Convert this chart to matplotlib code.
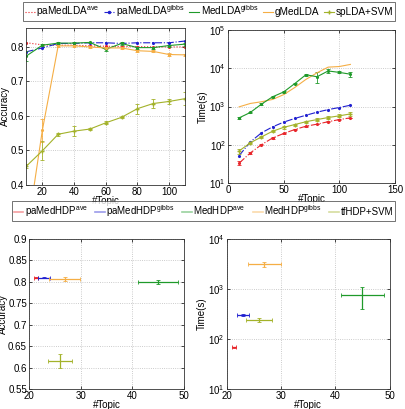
import matplotlib
matplotlib.use("Agg")
import matplotlib.pyplot as plt
from matplotlib.lines import Line2D
from matplotlib.ticker import FixedLocator, NullLocator, FuncFormatter

plt.rcParams['font.family'] = ['Liberation Sans', 'DejaVu Sans']
plt.rcParams['font.size'] = 7
plt.rcParams['mathtext.fontset'] = 'custom'
plt.rcParams['mathtext.rm'] = 'Liberation Sans'

# ---- data ----
topics = [10, 20, 30, 40, 50, 60, 70, 80, 90, 100, 110]

acc_pa_ave = [0.812, 0.806, 0.805, 0.805, 0.803, 0.802, 0.801, 0.801, 0.800, 0.800, 0.800]
acc_pa_gibbs = [0.786, 0.797, 0.810, 0.810, 0.812, 0.812, 0.810, 0.812, 0.812, 0.812, 0.817]
acc_med_gibbs = [0.774, 0.805, 0.811, 0.811, 0.813, 0.793, 0.810, 0.798, 0.798, 0.804, 0.808]
acc_med_gibbs_err = [0.015, 0.003, 0.003, 0.004, 0.002, 0.006, 0.005, 0.003, 0.003, 0.003, 0.004]
acc_gmed = [0.25, 0.558, 0.803, 0.803, 0.800, 0.797, 0.797, 0.789, 0.787, 0.778, 0.777]
acc_gmed_err = [0.0, 0.033, 0.003, 0.002, 0.003, 0.004, 0.003, 0.003, 0.003, 0.003, 0.003]
acc_splda = [0.455, 0.499, 0.547, 0.556, 0.562, 0.580, 0.596, 0.621, 0.636, 0.642, 0.650]
acc_splda_err = [0.005, 0.028, 0.004, 0.015, 0.002, 0.004, 0.003, 0.015, 0.012, 0.008, 0.018]

time_pa_ave = [33, 61, 100, 150, 197, 250, 305, 345, 400, 455, 505]
time_pa_ave_err = [4, 4, 4, 5, 5, 6, 6, 6, 8, 10, 10]
time_pa_gibbs = [52, 118, 204, 293, 390, 487, 590, 710, 830, 940, 1080]
time_med_gibbs = [505, 697, 1150, 1790, 2400, 3980, 6760, 6000, 8500, 7800, 7000]
time_med_gibbs_err = [20, 30, 50, 100, 100, 150, 300, 1800, 800, 500, 1200]
time_gmed = [980, 1200, 1330, 1530, 2040, 3140, 5100, 7600, 10700, 11100, 12600]
time_splda = [69, 112, 160, 225, 285, 337, 400, 455, 515, 570, 640]
time_splda_err = [10, 8, 10, 15, 20, 20, 30, 35, 40, 50, 60]

lda_labels = ['paMedLDA$^{\\mathrm{ave}}$', 'paMedLDA$^{\\mathrm{gibbs}}$',
              'MedLDA$^{\\mathrm{gibbs}}$', 'gMedLDA', 'spLDA+SVM']

hdp_labels = ['paMedHDP$^{\\mathrm{ave}}$', 'paMedHDP$^{\\mathrm{gibbs}}$',
              'MedHDP$^{\\mathrm{ave}}$', 'MedHDP$^{\\mathrm{gibbs}}$', 'tfHDP+SVM']
hdp_topics = [21.3, 22.9, 45.0, 26.9, 26.0]
hdp_topics_err = [0.4, 1.1, 3.9, 3.0, 2.4]
hdp_acc = [0.809, 0.809, 0.800, 0.807, 0.615]
hdp_acc_err = [0.001, 0.001, 0.005, 0.005, 0.017]
hdp_time = [68, 302, 745, 3080, 240]
hdp_time_err_lo = [2, 20, 345, 300, 22]
hdp_time_err_hi = [2, 20, 355, 330, 25]

c_red = '#e8262b'
c_blue = '#2020d0'
c_green = '#1f9a2a'
c_orange = '#f5ae45'
c_olive = '#a3b22a'
colors = [c_red, c_blue, c_green, c_orange, c_olive]

fig = plt.figure(figsize=(4.05, 4.09), dpi=100)

def style(ax):
    ax.tick_params(direction='in', length=2.5, width=0.5, labelsize=7, pad=1.5,
                   top=True, right=True)
    ax.tick_params(which='minor', length=0)
    for s in ax.spines.values():
        s.set_linewidth(0.6)
        s.set_color('#333333')
    ax.grid(True, linestyle=':', color='#bbbbbb', linewidth=0.6)

lw = 0.8
ms = 2.5
eb = dict(elinewidth=0.6, capsize=1.2, capthick=0.6)

# ---- top-left: accuracy ----
ax1 = fig.add_axes([0.0654, 0.5477, 0.391, 0.384])
ax1.plot(topics, acc_pa_ave, ':', color=c_red, lw=lw, marker='.', ms=ms)
ax1.plot(topics, acc_pa_gibbs, '-.', color=c_blue, lw=lw, marker='.', ms=ms)
ax1.errorbar(topics, acc_med_gibbs, yerr=acc_med_gibbs_err, fmt='-', color=c_green,
             lw=lw, marker='.', ms=ms, **eb)
ax1.errorbar(topics, acc_gmed, yerr=acc_gmed_err, fmt='-', color=c_orange,
             lw=lw, marker='.', ms=ms, **eb)
ax1.errorbar(topics, acc_splda, yerr=acc_splda_err, fmt='-', color=c_olive,
             lw=lw, marker='+', ms=3, **eb)
ax1.set_xlim(10, 110)
ax1.set_ylim(0.4, 0.855)
ax1.set_xticks([20, 40, 60, 80, 100])
ax1.set_yticks([0.4, 0.5, 0.6, 0.7, 0.8])
ax1.set_xlabel('#Topic', fontsize=7, labelpad=-0.5)
ax1.set_ylabel('Accuracy', fontsize=7, labelpad=1)
style(ax1)

def logfmt(v, pos):
    import math
    e = int(round(math.log10(v)))
    return '$10^{%d}$' % e

# ---- top-right: time ----
ax2 = fig.add_axes([0.563, 0.5526, 0.412, 0.374])
ax2.errorbar(topics, time_pa_ave, yerr=time_pa_ave_err, fmt='-.', color=c_red,
             lw=lw, marker='.', ms=ms, **eb)
ax2.plot(topics, time_pa_gibbs, '-.', color=c_blue, lw=lw, marker='.', ms=ms)
ax2.errorbar(topics, time_med_gibbs, yerr=time_med_gibbs_err, fmt='-', color=c_green,
             lw=lw, marker='.', ms=ms, **eb)
ax2.plot(topics, time_gmed, '-', color=c_orange, lw=lw)
ax2.errorbar(topics, time_splda, yerr=time_splda_err, fmt='-', color=c_olive,
             lw=lw, marker='+', ms=3, **eb)
ax2.set_yscale('log')
ax2.set_xlim(0, 150)
ax2.set_ylim(10, 1e5)
ax2.set_xticks([0, 50, 100, 150])
ax2.yaxis.set_major_locator(FixedLocator([1e1, 1e2, 1e3, 1e4, 1e5]))
ax2.yaxis.set_minor_locator(NullLocator())
ax2.yaxis.set_major_formatter(FuncFormatter(logfmt))
ax2.set_xlabel('#Topic', fontsize=7, labelpad=-0.5)
ax2.set_ylabel('Time(s)', fontsize=7, labelpad=1)
style(ax2)

# top legend
styles_top = [':', '-.', '-', '-', '-']
markers_top = ['', '.', '', '', '+']
handles = [Line2D([0], [0], color=c, ls=s, lw=0.8, marker=m, ms=3)
           for c, s, m in zip(colors, styles_top, markers_top)]
leg1 = fig.legend(handles, lda_labels, loc='center', bbox_to_anchor=(0.516, 0.972),
                  ncol=5, fontsize=7.2, frameon=True, fancybox=False, edgecolor='#333333',
                  handlelength=1.0, handletextpad=0.15, columnspacing=0.5,
                  borderpad=0.2, borderaxespad=0)
leg1.get_frame().set_linewidth(0.6)

# ---- bottom-left: HDP accuracy ----
ax3 = fig.add_axes([0.0716, 0.0489, 0.383, 0.367])
for i in range(5):
    ax3.errorbar(hdp_topics[i], hdp_acc[i], xerr=hdp_topics_err[i], yerr=hdp_acc_err[i],
                 fmt='none', ecolor=colors[i], elinewidth=0.9, capsize=1.2, capthick=0.6)
ax3.set_xlim(20, 50)
ax3.set_ylim(0.55, 0.9)
ax3.set_xticks([20, 30, 40, 50])
ax3.set_yticks([0.55, 0.6, 0.65, 0.7, 0.75, 0.8, 0.85, 0.9])
ax3.set_yticklabels(['0.55', '0.6', '0.65', '0.7', '0.75', '0.8', '0.85', '0.9'])
ax3.set_xlabel('#Topic', fontsize=7, labelpad=-0.5)
ax3.set_ylabel('Accuracy', fontsize=7, labelpad=0)
style(ax3)

# ---- bottom-right: HDP time ----
ax4 = fig.add_axes([0.560, 0.0489, 0.402, 0.367])
for i in range(5):
    ax4.errorbar(hdp_topics[i], hdp_time[i], xerr=hdp_topics_err[i],
                 yerr=[[hdp_time_err_lo[i]], [hdp_time_err_hi[i]]],
                 fmt='none', ecolor=colors[i], elinewidth=0.9, capsize=1.2, capthick=0.6)
ax4.set_yscale('log')
ax4.set_xlim(20, 50)
ax4.set_ylim(10, 1e4)
ax4.set_xticks([20, 30, 40, 50])
ax4.yaxis.set_major_locator(FixedLocator([1e1, 1e2, 1e3, 1e4]))
ax4.yaxis.set_minor_locator(NullLocator())
ax4.yaxis.set_major_formatter(FuncFormatter(logfmt))
ax4.set_xlabel('#Topic', fontsize=7, labelpad=-0.5)
ax4.set_ylabel('Time(s)', fontsize=7, labelpad=1)
style(ax4)

# bottom legend
handles2 = [Line2D([0], [0], color=c, ls='-', lw=1.2, alpha=0.45) for c in colors]
leg2 = fig.legend(handles2, hdp_labels, loc='center', bbox_to_anchor=(0.502, 0.484),
                  ncol=5, fontsize=7.0, frameon=True, fancybox=False, edgecolor='#333333',
                  handlelength=1.0, handletextpad=0.15, columnspacing=0.75,
                  borderpad=0.2, borderaxespad=0)
leg2.get_frame().set_linewidth(0.6)

fig.savefig('out.png', dpi=100)
